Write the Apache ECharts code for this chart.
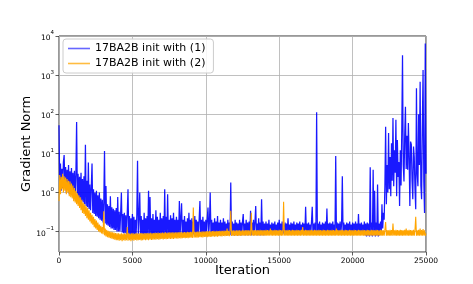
<!DOCTYPE html>
<html>
<head>
<meta charset="utf-8">
<script src="https://cdn.jsdelivr.net/npm/echarts@6/dist/echarts.min.js"></script>
<style>html,body{margin:0;padding:0;background:#fff}#c{width:473px;height:284px}</style>
</head>
<body>
<div id="c"></div>
<script>
const seriesNames = ['17BA2B init with (1)', '17BA2B init with (2)'];
const iterStep = 50;
const xTicks = [0, 5000, 10000, 15000, 20000, 25000];
const blueValues = [
52,1.5,5.5,1.1,4.0,1.3,6.0,9.0,1.4,4.5,
1.0,3.8,1.2,5.0,0.9,3.5,1.1,4.2,0.85,3.2,
0.9,3.6,0.75,2.8,63,0.8,3.0,0.7,2.5,0.65,
3.2,0.6,2.2,0.55,2.6,0.5,16.5,0.45,2.0,0.42,
5.8,0.38,1.6,0.35,1.4,5.5,0.3,1.2,0.28,1.0,
0.25,1.1,0.24,0.85,0.22,1.0,0.2,0.7,0.19,0.65,
0.17,0.55,11.5,0.16,1.45,0.15,0.5,0.14,0.45,0.13,
0.8,0.12,0.42,0.12,0.38,0.11,0.35,0.11,0.4,0.1,
0.76,0.1,0.32,0.1,0.3,1.0,0.095,0.28,0.09,0.3,
0.09,0.26,0.085,0.3,1.2,0.085,0.25,0.08,0.22,0.085,
0.28,0.08,0.24,0.085,0.2,0.08,0.26,6.5,0.085,0.22,
1.0,0.08,0.25,0.085,0.2,0.075,0.3,0.08,0.22,0.085,
0.25,0.08,1.1,0.085,0.76,0.08,0.22,0.075,0.28,0.08,
0.2,0.085,0.35,0.08,0.24,0.075,0.2,0.08,0.3,0.085,
0.22,0.08,0.25,0.075,1.2,0.08,0.24,0.085,0.9,0.08,
0.2,0.075,0.26,0.08,0.22,0.085,0.3,0.08,0.2,0.075,
0.24,0.08,0.2,0.085,0.6,0.08,0.22,0.53,0.08,0.2,
0.085,0.25,0.08,0.18,0.075,0.22,0.085,0.3,0.08,0.2,
0.085,0.22,0.08,0.18,0.085,0.25,0.08,0.2,0.085,0.18,
0.08,0.22,0.6,0.085,0.2,0.08,0.24,0.085,0.18,0.08,
0.2,0.085,0.22,0.41,0.085,0.18,1.0,0.085,0.2,0.08,
0.17,0.085,0.22,0.08,0.18,0.085,0.25,0.08,0.17,0.085,
0.2,0.08,0.17,0.085,0.22,0.08,0.18,0.085,0.16,0.08,
0.2,0.085,0.17,0.08,1.8,0.085,0.18,0.08,0.16,0.085,
0.2,0.08,0.17,0.085,0.16,0.08,0.2,0.085,0.17,0.08,
0.18,0.28,0.085,0.16,0.08,0.2,0.085,0.17,0.08,0.18,
0.085,0.34,0.08,0.17,0.085,0.2,0.08,0.18,0.45,0.085,
0.16,0.08,0.22,0.085,0.17,0.08,0.67,0.085,0.18,0.08,
0.16,0.09,0.18,0.085,0.16,0.09,0.2,0.085,0.15,0.09,
0.17,0.085,0.16,0.09,0.18,0.085,0.15,0.09,0.17,0.085,
0.2,0.09,0.16,0.085,0.18,0.09,0.15,0.085,0.17,0.09,
0.16,0.085,0.22,0.09,0.15,0.085,0.17,0.09,0.16,0.085,
0.18,0.09,0.15,0.085,0.17,0.09,0.16,0.085,0.18,0.09,
0.15,0.085,0.17,0.09,0.16,0.085,0.43,0.09,0.16,0.085,
0.17,0.09,0.15,0.085,0.18,0.43,0.09,0.16,0.085,0.17,
0.09,112,0.09,0.16,0.085,0.18,0.09,0.15,0.085,0.17,
0.09,0.16,0.085,0.18,0.09,0.39,0.085,0.16,0.09,0.17,
0.085,0.16,0.09,0.18,0.085,0.15,0.09,8.5,0.085,0.17,
0.09,0.16,0.085,0.18,0.09,0.16,2.6,0.085,0.17,0.09,
0.15,0.085,0.17,0.09,0.16,0.085,0.18,0.09,0.15,0.085,
0.17,0.09,0.16,0.085,0.18,0.09,0.16,0.085,0.28,0.09,
0.16,0.085,0.17,0.09,0.15,0.085,0.18,0.08,0.16,0.075,
0.17,0.08,0.16,0.075,4.4,0.08,0.17,0.075,3.8,0.08,
1.1,0.075,0.17,0.08,1.6,0.075,0.16,0.08,0.18,0.09,
0.5,0.12,0.3,0.2,1.5,48,0.5,5,1.0,33,
1.2,8,0.8,18,2.0,80,1.45,12,3.2,72,
0.8,22,2.5,6,0.45,12,1.5,40,3200,5,
1.9,30,156,4,28,3.8,60,8,0.45,20,
17,2,0.67,15,8,1.2,0.37,460,3,1.45,
100,5,680,1.5,0.67,50,1350,2,0.3,6400,
3
];
const orangeValues = [
0.6,2.8,0.9,2.5,1.2,3.0,1.0,2.6,1.1,2.4,
0.9,2.2,1.0,2.0,0.8,1.9,0.75,1.7,0.7,1.5,
0.6,1.3,0.55,1.1,0.5,0.95,0.45,0.85,0.4,0.75,
0.35,0.65,0.3,0.55,0.28,0.5,0.25,0.45,0.22,0.4,
0.2,0.35,0.18,0.3,0.16,0.27,0.15,0.24,0.13,0.21,
0.12,0.19,0.11,0.17,0.1,0.15,0.095,0.14,0.09,0.13,
0.085,0.33,0.08,0.12,0.075,0.11,0.072,0.105,0.07,0.1,
0.068,0.098,0.066,0.095,0.064,0.094,0.062,0.092,0.06,0.09,
0.06,0.09,0.058,0.088,0.06,0.09,0.057,0.087,0.06,0.09,
0.058,0.088,0.06,0.13,0.058,0.09,0.06,0.088,0.057,0.09,
0.06,0.09,0.058,0.088,0.061,0.092,0.059,0.089,0.06,0.09,
0.061,0.09,0.059,0.092,0.06,0.089,0.062,0.091,0.06,0.09,
0.062,0.092,0.06,0.09,0.063,0.093,0.061,0.09,0.062,0.092,
0.063,0.093,0.062,0.091,0.064,0.094,0.062,0.092,0.064,0.093,
0.065,0.094,0.063,0.093,0.065,0.095,0.064,0.093,0.065,0.094,
0.066,0.095,0.065,0.094,0.066,0.096,0.065,0.094,0.067,0.095,
0.067,0.096,0.066,0.095,0.068,0.097,0.067,0.095,0.068,0.096,
0.069,0.097,0.068,0.096,0.069,0.098,0.068,0.097,0.07,0.098,
0.07,0.098,0.069,0.41,0.07,0.099,0.071,0.098,0.07,0.1,
0.071,0.1,0.072,0.099,0.072,0.101,0.071,0.1,0.073,0.102,
0.073,0.101,0.072,0.102,0.074,0.103,0.073,0.101,0.074,0.103,
0.075,0.104,0.074,0.102,0.075,0.104,0.074,0.103,0.076,0.105,
0.076,0.104,0.075,0.105,0.077,0.106,0.076,0.104,0.077,0.12,
0.077,0.105,0.076,0.106,0.34,0.077,0.106,0.078,0.107,0.077,
0.106,0.078,0.108,0.077,0.107,0.078,0.108,0.077,0.106,0.078,
0.108,0.078,0.107,0.079,0.108,0.078,0.109,0.078,0.107,0.079,
0.108,0.078,0.3,0.079,0.108,0.078,0.109,0.079,0.108,0.078,
0.109,0.079,0.108,0.078,0.11,0.079,0.108,0.078,0.109,0.079,
0.108,0.079,0.11,0.078,0.109,0.079,0.108,0.079,0.12,0.078,
0.109,0.079,0.108,0.078,0.11,0.079,0.109,0.078,0.108,0.079,
0.11,0.078,0.109,0.079,0.108,0.078,0.58,0.079,0.109,0.078,
0.108,0.079,0.11,0.078,0.109,0.079,0.108,0.078,0.11,0.079,
0.109,0.078,0.108,0.079,0.11,0.078,0.109,0.079,0.108,0.078,
0.11,0.079,0.13,0.078,0.108,0.079,0.11,0.078,0.109,0.079,
0.108,0.078,0.11,0.079,0.109,0.078,0.108,0.079,0.11,0.078,
0.109,0.079,0.108,0.078,0.11,0.079,0.109,0.078,0.108,0.079,
0.11,0.078,0.109,0.079,0.108,0.078,0.11,0.079,0.109,0.078,
0.108,0.079,0.11,0.078,0.109,0.079,0.108,0.078,0.12,0.079,
0.109,0.078,0.108,0.079,0.11,0.078,0.109,0.079,0.108,0.078,
0.11,0.079,0.109,0.078,0.108,0.079,0.11,0.078,0.109,0.079,
0.108,0.078,0.11,0.079,0.109,0.078,0.108,0.079,0.11,0.078,
0.109,0.079,0.108,0.078,0.11,0.079,0.109,0.078,0.108,0.079,
0.11,0.078,0.109,0.079,0.108,0.078,0.11,0.079,0.109,0.078,
0.108,0.079,0.11,0.078,0.109,0.079,0.108,0.078,0.11,0.079,
0.109,0.078,0.108,0.079,0.11,0.175,0.078,0.109,0.079,0.108,
0.078,0.11,0.079,0.109,0.078,0.16,0.079,0.108,0.078,0.11,
0.079,0.109,0.078,0.108,0.079,0.11,0.078,0.109,0.079,0.108,
0.078,0.11,0.079,0.12,0.078,0.108,0.079,0.11,0.078,0.109,
0.079,0.108,0.078,0.11,0.079,0.109,0.24,0.078,0.108,0.079,
0.11,0.078,0.12,0.079,0.109,0.078,0.115,0.079,0.108,0.078,
0.09
];

function toPairs(vals){ return vals.map((v,i)=>[i*iterStep, v]); }

const FONT = 'DejaVu Sans';
const chart = echarts.init(document.getElementById('c'), null, {renderer:'canvas'});
chart.setOption({
  animation:false,
  backgroundColor:'#ffffff',
  grid:{left:59, right:47, top:36, bottom:32, show:true, borderColor:'#333', borderWidth:1, backgroundColor:'transparent'},
  legend:{
    orient:'vertical', left:63, top:39,
    backgroundColor:'rgba(255,255,255,0.85)', borderColor:'#cccccc', borderWidth:1, borderRadius:3,
    padding:[4,8,4,5], itemGap:4, itemWidth:22, itemHeight:1.6, icon:'rect',
    textStyle:{fontFamily:FONT, fontSize:11, color:'#000'},
    data:[{name:seriesNames[0], itemStyle:{color:'rgba(0,0,255,0.6)'}},{name:seriesNames[1], itemStyle:{color:'rgba(255,165,0,0.75)'}}]
  },
  xAxis:{
    type:'value', min:xTicks[0], max:xTicks[xTicks.length-1], interval:5000,
    name:'Iteration', nameLocation:'middle', nameGap:12, nameMoveOverlap:false,
    nameTextStyle:{fontFamily:FONT, fontSize:13, color:'#000'},
    axisLine:{show:false},
    axisTick:{show:true, length:3.5, lineStyle:{color:'#333', width:0.8}},
    axisLabel:{fontFamily:FONT, fontSize:7.5, color:'#000', margin:5, formatter:function(v){return String(v);}},
    splitLine:{show:true, lineStyle:{color:'#b0b0b0', width:0.8}}
  },
  yAxis:{
    type:'log', logBase:10, min:0.03, max:10000,
    name:'Gradient Norm', nameLocation:'middle', nameGap:26, nameMoveOverlap:false,
    nameTextStyle:{fontFamily:FONT, fontSize:13, color:'#000'},
    axisLine:{show:false},
    axisTick:{show:true, length:3.5, lineStyle:{color:'#333', width:0.8}},
    axisLabel:{
      fontFamily:FONT, fontSize:7.5, color:'#000', margin:5, showMinLabel:false,
      formatter:function(v){
        const e = Math.log10(v); const r = Math.round(e);
        if (Math.abs(e-r) > 1e-6) return '';
        return '{b|10}{s|' + (r<0 ? '\u2212'+(-r) : r) + '}';
      },
      rich:{
        b:{fontFamily:FONT, fontSize:7.5, color:'#000', lineHeight:12, verticalAlign:'bottom'},
        s:{fontFamily:FONT, fontSize:5.5, color:'#000', lineHeight:12, verticalAlign:'top'}
      }
    },
    splitLine:{show:true, lineStyle:{color:'#b0b0b0', width:0.8}}
  },
  series:[
    {name:seriesNames[0], type:'line', data:toPairs(blueValues), showSymbol:false, symbol:'none',
     itemStyle:{color:'#0000ff'}, lineStyle:{color:'#0000ff', width:1.25, opacity:0.9}, z:2},
    {name:seriesNames[1], type:'line', data:toPairs(orangeValues), showSymbol:false, symbol:'none',
     itemStyle:{color:'#ffa500'}, lineStyle:{color:'#ffa500', width:1.1, opacity:1}, z:3}
  ]
});
</script>
</body>
</html>
